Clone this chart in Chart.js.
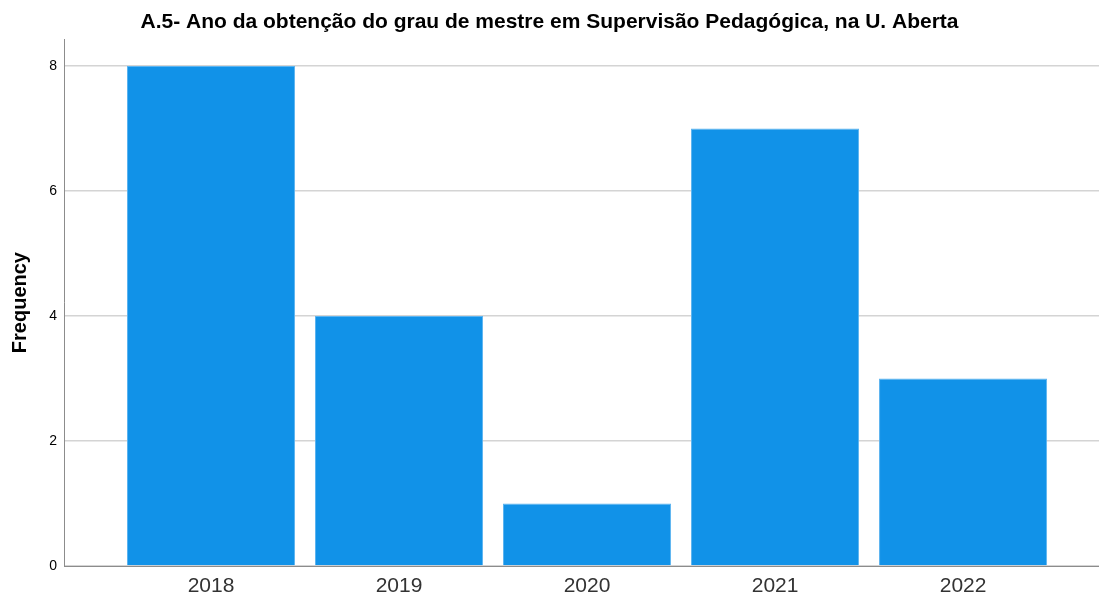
<!DOCTYPE html>
<html>
<head>
<meta charset="utf-8">
<script src="https://cdn.jsdelivr.net/npm/chart.js@4"></script>
<style>
  html, body { margin: 0; padding: 0; background: #fff; }
  #wrap { width: 1099px; height: 596px; position: relative; }
</style>
</head>
<body>
<div id="wrap"><canvas id="anoChart"></canvas></div>
<script>
'use strict';

// data
var years = ['2018', '2019', '2020', '2021', '2022'];
var frequency = [8, 4, 1, 7, 3];
var yTicks = [0, 2, 4, 6, 8];

var barBlue = '#1192e8';

var points = years.map(function (y, i) {
    return { x: i, y: frequency[i] };
});

var ctx = document.getElementById('anoChart');
var anoChart = new Chart(ctx, {
    type: 'bar',
    data: {
        datasets: [{
            label: 'Frequency',
            data: points,
            backgroundColor: barBlue,
            borderColor: '#5cb4f0',
            borderWidth: 1,
            barPercentage: 0.894,
            categoryPercentage: 1
        }]
    },
    options: {
        responsive: true,
        maintainAspectRatio: false,
        animation: false,
        layout: { padding: 0 },
        plugins: {
            legend: { display: false },
            tooltip: { enabled: false },
            title: {
                display: true,
                text: 'A.5- Ano da obtenção do grau de mestre em Supervisão Pedagógica, na U. Aberta',
                color: '#000',
                font: { family: 'Arial, "Liberation Sans"', size: 21, weight: 'bold' },
                padding: { top: 10, bottom: 4 }
            }
        },
        scales: {
            x: {
                type: 'linear',
                offset: false,
                min: -0.782,
                max: 4.723,
                grid: { display: false, drawTicks: false, offset: false },
                border: { display: true, color: '#8c8c8c', width: 1 },
                ticks: {
                    stepSize: 1,
                    includeBounds: false,
                    autoSkip: false,
                    maxRotation: 0,
                    padding: 8,
                    color: '#333',
                    font: { family: 'Arial, "Liberation Sans"', size: 21 },
                    callback: function (v) {
                        return Number.isInteger(v) ? years[v] : '';
                    }
                },
                afterFit: function (scale) { scale.height = 30; }
            },
            y: {
                min: 0,
                max: 8.43,
                grid: { color: '#d4d4d4', lineWidth: 1.5, drawTicks: false },
                border: { display: true, color: '#8c8c8c', width: 1 },
                ticks: {
                    stepSize: 2,
                    includeBounds: false,
                    padding: 7,
                    color: '#000',
                    font: { family: 'Arial, "Liberation Sans"', size: 14 },
                    callback: function (v) {
                        return yTicks.indexOf(v) >= 0 ? v : '';
                    }
                },
                title: {
                    display: true,
                    text: 'Frequency',
                    color: '#000',
                    font: { family: 'Arial, "Liberation Sans"', size: 20, weight: 'bold' },
                    padding: { top: 8, bottom: 0 }
                },
                afterFit: function (scale) { scale.width = 64; }
            }
        }
    }
});
</script>
</body>
</html>
